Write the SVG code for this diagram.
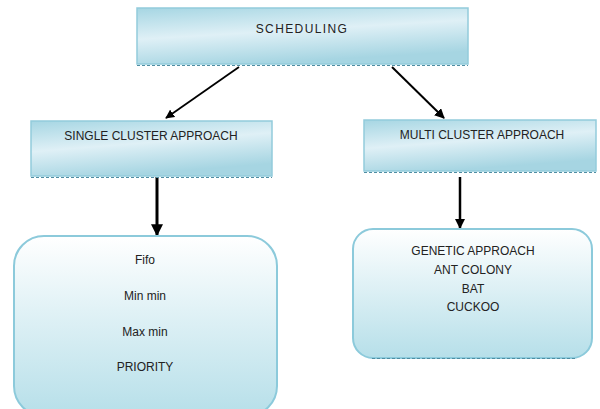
<svg xmlns="http://www.w3.org/2000/svg" width="600" height="409" viewBox="0 0 600 409">
<style>
.box{fill:url(#gBox);stroke:#93cbdb;stroke-width:1.5}
.rbox{fill:url(#gRound);stroke:#8ccadb;stroke-width:2}
.dash{stroke:#4f8ea3;stroke-width:1.2;stroke-dasharray:3 2;fill:none}
text{font-family:"Liberation Sans",Arial,sans-serif;font-size:12px;fill:#222;text-anchor:middle}
.t{letter-spacing:1.4px}
.arr{stroke:#000;fill:none}
</style>
<defs>
<linearGradient id="gBox" x1="0" y1="0" x2="0.35" y2="1">
<stop offset="0" stop-color="#a6d6e3"/>
<stop offset="0.5" stop-color="#dff0f6"/>
<stop offset="1" stop-color="#a6d5e2"/>
</linearGradient>
<linearGradient id="gRound" x1="0" y1="0" x2="0" y2="1">
<stop offset="0" stop-color="#ffffff"/>
<stop offset="1" stop-color="#b6dfe9"/>
</linearGradient>
<marker id="ah" viewBox="0 0 10 10" refX="9" refY="5" markerWidth="5" markerHeight="5" orient="auto" markerUnits="strokeWidth">
<path d="M0,0 L10,5 L0,10 z" fill="#000"/>
</marker>
<marker id="ah2" viewBox="0 0 10 10" refX="9" refY="5" markerWidth="4" markerHeight="4" orient="auto" markerUnits="strokeWidth">
<path d="M0,0 L10,5 L0,10 z" fill="#000"/>
</marker>
</defs>
<g id="connectors">
<line class="arr" x1="239" y1="67" x2="166" y2="118" stroke-width="1.8" marker-end="url(#ah)"/>
<line class="arr" x1="392" y1="67" x2="444" y2="118" stroke-width="2" marker-end="url(#ah)"/>
<line class="arr" x1="157" y1="177" x2="157" y2="235" stroke-width="3" marker-end="url(#ah2)"/>
<line class="arr" x1="460" y1="177" x2="460" y2="228" stroke-width="2.5" marker-end="url(#ah2)"/>
</g>
<g id="scheduling">
<rect class="box" x="137" y="8" width="331" height="56"/>
<line class="dash" x1="137" y1="65.5" x2="468" y2="65.5"/>
<text class="t" x="302" y="33">SCHEDULING</text>
</g>
<g id="single">
<rect class="box" x="31" y="121" width="241" height="55"/>
<line class="dash" x1="31" y1="177.5" x2="272" y2="177.5"/>
<text x="151" y="140">SINGLE CLUSTER APPROACH</text>
</g>
<g id="multi">
<rect class="box" x="364" y="120" width="232" height="51"/>
<line class="dash" x1="364" y1="172.5" x2="596" y2="172.5"/>
<text x="482" y="139">MULTI CLUSTER APPROACH</text>
</g>
<g id="single-list">
<rect class="rbox" x="14" y="236" width="263" height="180" rx="30" ry="30"/>
<text x="145" y="264">Fifo</text>
<text x="145" y="300">Min min</text>
<text x="145" y="336">Max min</text>
<text x="145" y="371">PRIORITY</text>
</g>
<g id="multi-list">
<rect class="rbox" x="353" y="229" width="239" height="129" rx="20" ry="20"/>
<line class="dash" x1="372" y1="358.5" x2="575" y2="358.5"/>
<text x="473" y="255">GENETIC APPROACH</text>
<text x="473" y="274">ANT COLONY</text>
<text x="473" y="293">BAT</text>
<text x="473" y="311">CUCKOO</text>
</g>
</svg>
